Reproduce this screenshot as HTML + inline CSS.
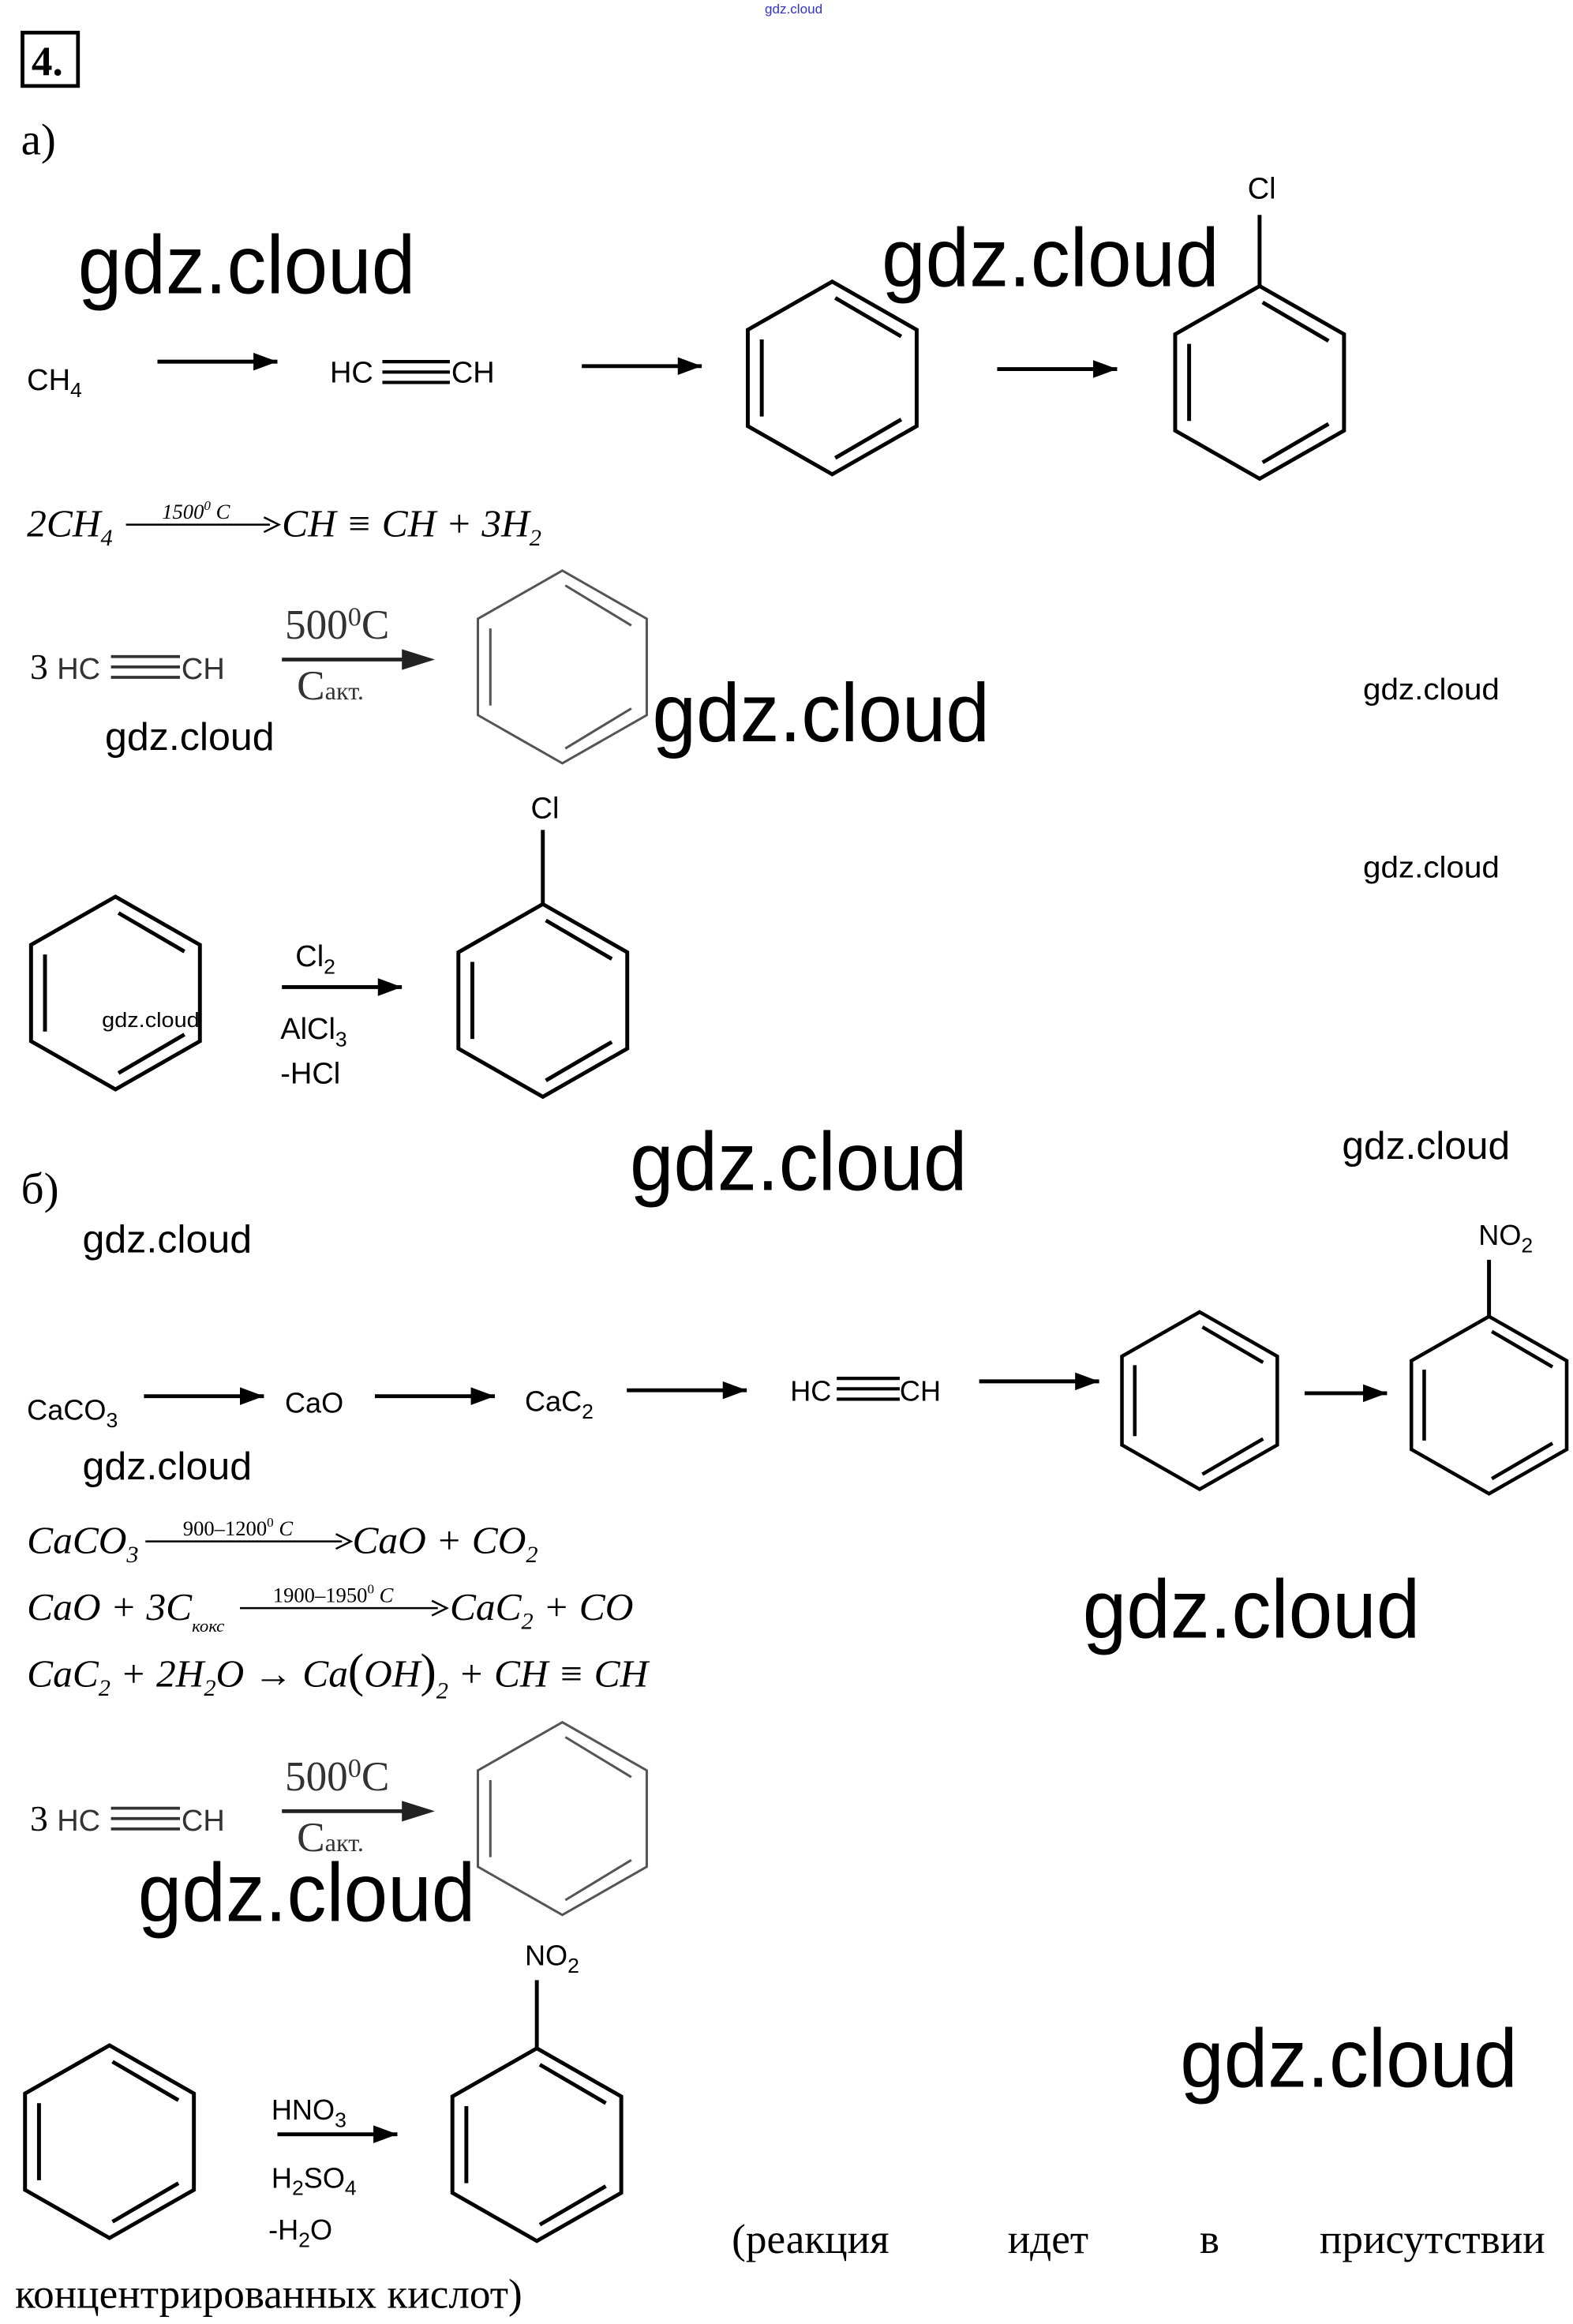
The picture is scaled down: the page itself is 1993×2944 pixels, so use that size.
<!DOCTYPE html>
<html><head><meta charset="utf-8"><style>
html,body{margin:0;padding:0;background:#fff}
svg{display:block}
.a{font-family:"Liberation Sans",sans-serif;fill:#000}
.s{font-family:"Liberation Serif",serif;fill:#000}
.i{font-family:"Liberation Serif",serif;font-style:italic;fill:#000}
.w{font-family:"Liberation Sans",sans-serif;fill:#000}
</style></head><body>
<svg width="1993" height="2944" viewBox="0 0 1049 1568" preserveAspectRatio="none" xmlns="http://www.w3.org/2000/svg">
<defs>
<g id="hx" fill="none" stroke="#000" stroke-width="2.6">
<polygon points="0,-65 56.3,-32.5 56.3,32.5 0,65 -56.3,32.5 -56.3,-32.5"/>
<line x1="-47" y1="-26" x2="-47" y2="26"/>
<line x1="2" y1="-54" x2="46" y2="-28"/>
<line x1="46" y1="28" x2="2" y2="54"/>
</g>
<g id="hxg" fill="none" stroke="#555" stroke-width="1.6">
<polygon points="0,-65 56.3,-32.5 56.3,32.5 0,65 -56.3,32.5 -56.3,-32.5"/>
<line x1="-48" y1="-26" x2="-48" y2="26"/>
<line x1="2" y1="-55" x2="46" y2="-28"/>
<line x1="46" y1="28" x2="2" y2="55"/>
</g>
<g id="ar"><line x1="0" y1="0" x2="-80" y2="0" stroke="#000" stroke-width="2.6"/><polygon points="0,0 -16,-6 -16,6" fill="#000"/></g>
</defs>
<text x="510" y="9" class="a" font-size="9" style="fill:#33c">gdz.cloud</text>
<rect x="15" y="22" width="37" height="36" fill="none" stroke="#000" stroke-width="2.5"/>
<text x="21" y="51" class="s" font-size="28" font-weight="bold">4.</text>
<text x="14" y="104" class="s" font-size="30">а)</text>

<text x="52" y="198" class="w" font-size="56" textLength="225" lengthAdjust="spacingAndGlyphs">gdz.cloud</text>
<text x="588" y="193" class="w" font-size="56" textLength="225" lengthAdjust="spacingAndGlyphs">gdz.cloud</text>

<text x="18" y="263" class="a" font-size="20">CH<tspan font-size="14" dy="5">4</tspan></text>
<use href="#ar" x="185" y="244"/>
<text x="220" y="258" class="a" font-size="20">HC</text>
<g stroke="#000" stroke-width="2.2"><line x1="255" y1="244" x2="300" y2="244"/><line x1="255" y1="251" x2="300" y2="251"/><line x1="255" y1="258" x2="300" y2="258"/></g>
<text x="301" y="258" class="a" font-size="20">CH</text>
<use href="#ar" x="468" y="247"/>
<use href="#hx" x="555" y="255"/>
<use href="#ar" x="745" y="249"/>
<use href="#hx" transform="translate(840,258)"/>
<line x1="840" y1="193" x2="840" y2="145" stroke="#000" stroke-width="2.6"/>
<text x="832" y="134" class="a" font-size="20">Cl</text>

<text x="18" y="362" class="i" font-size="26">2CH<tspan font-size="16" dy="6">4</tspan></text>
<line x1="84" y1="354" x2="180" y2="354" stroke="#000" stroke-width="1.3"/><path d="M176,349 L186,354 L176,359" fill="none" stroke="#000" stroke-width="1.3"/>
<text x="108" y="350" class="i" font-size="14">1500<tspan font-size="9" dy="-6">0</tspan><tspan dy="6"> C</tspan></text>
<text x="188" y="362" class="i" font-size="26">CH ≡ CH + 3H<tspan font-size="16" dy="6">2</tspan></text>

<g id="r3">
<text x="20" y="458" class="s" font-size="24" fill="#333">3</text>
<text x="38" y="458" class="a" font-size="20" style="fill:#333">HC</text>
<g stroke="#333" stroke-width="2"><line x1="74" y1="443" x2="120" y2="443"/><line x1="74" y1="450" x2="120" y2="450"/><line x1="74" y1="457" x2="120" y2="457"/></g>
<text x="121" y="458" class="a" font-size="20" style="fill:#333">CH</text>
<text x="190" y="431" class="s" font-size="28" style="fill:#333">500<tspan font-size="18" dy="-9">0</tspan><tspan dy="9">C</tspan></text>
<line x1="188" y1="445" x2="272" y2="445" stroke="#222" stroke-width="2.5"/><polygon points="290,445 268,438 268,452" fill="#222"/>
<text x="198" y="472" class="s" font-size="28" style="fill:#333">C<tspan font-size="17">акт.</tspan></text>
<use href="#hxg" x="375" y="450"/>
</g>
<text x="70" y="506" class="w" font-size="26" textLength="113" lengthAdjust="spacingAndGlyphs">gdz.cloud</text>
<text x="435" y="500" class="w" font-size="56" textLength="225" lengthAdjust="spacingAndGlyphs">gdz.cloud</text>
<text x="909" y="472" class="w" font-size="20" textLength="91" lengthAdjust="spacingAndGlyphs">gdz.cloud</text>
<text x="909" y="592" class="w" font-size="20" textLength="91" lengthAdjust="spacingAndGlyphs">gdz.cloud</text>

<use href="#hx" x="77" y="670"/>
<text x="68" y="693" class="w" font-size="14" textLength="65" lengthAdjust="spacingAndGlyphs">gdz.cloud</text>
<text x="197" y="652" class="a" font-size="20">Cl<tspan font-size="14" dy="5">2</tspan></text>
<use href="#ar" x="268" y="666"/>
<text x="187" y="701" class="a" font-size="20">AlCl<tspan font-size="14" dy="5">3</tspan></text>
<text x="187" y="731" class="a" font-size="20">-HCl</text>
<use href="#hx" x="362" y="675"/>
<line x1="362" y1="610" x2="362" y2="560" stroke="#000" stroke-width="2.6"/>
<text x="354" y="552" class="a" font-size="20">Cl</text>

<text x="14" y="812" class="s" font-size="30">б)</text>
<text x="420" y="803" class="w" font-size="56" textLength="225" lengthAdjust="spacingAndGlyphs">gdz.cloud</text>
<text x="895" y="782" class="w" font-size="26" textLength="112" lengthAdjust="spacingAndGlyphs">gdz.cloud</text>
<text x="55" y="845" class="w" font-size="26" textLength="113" lengthAdjust="spacingAndGlyphs">gdz.cloud</text>

<text x="18" y="958" class="a" font-size="19">CaCO<tspan font-size="14" dy="5">3</tspan></text>
<use href="#ar" x="176" y="942"/>
<text x="190" y="953" class="a" font-size="19">CaO</text>
<use href="#ar" x="330" y="942"/>
<text x="350" y="952" class="a" font-size="19">CaC<tspan font-size="14" dy="5">2</tspan></text>
<use href="#ar" x="498" y="938"/>
<text x="527" y="945" class="a" font-size="19">HC</text>
<g stroke="#000" stroke-width="2.2"><line x1="558" y1="930" x2="600" y2="930"/><line x1="558" y1="937" x2="600" y2="937"/><line x1="558" y1="944" x2="600" y2="944"/></g>
<text x="600" y="945" class="a" font-size="19">CH</text>
<use href="#ar" x="733" y="932"/>
<use href="#hx" transform="translate(800,945) scale(0.92)"/>
<g transform="translate(925,940)"><line x1="0" y1="0" x2="-55" y2="0" stroke="#000" stroke-width="2.6"/><polygon points="0,0 -16,-6 -16,6" fill="#000"/></g>
<use href="#hx" transform="translate(993,948) scale(0.92)"/>
<line x1="993" y1="888" x2="993" y2="850" stroke="#000" stroke-width="2.6"/>
<text x="986" y="840" class="a" font-size="19">NO<tspan font-size="14" dy="5">2</tspan></text>
<text x="55" y="998" class="w" font-size="26" textLength="113" lengthAdjust="spacingAndGlyphs">gdz.cloud</text>

<text x="18" y="1048" class="i" font-size="26">CaCO<tspan font-size="16" dy="6">3</tspan></text>
<line x1="97" y1="1040" x2="228" y2="1040" stroke="#000" stroke-width="1.3"/><path d="M224,1035 L234,1040 L224,1045" fill="none" stroke="#000" stroke-width="1.3"/>
<text x="122" y="1036" class="s" font-size="14">900–1200<tspan font-size="9" dy="-6">0</tspan><tspan dy="6" font-style="italic"> C</tspan></text>
<text x="235" y="1048" class="i" font-size="26">CaO + CO<tspan font-size="16" dy="6">2</tspan></text>

<text x="18" y="1093" class="i" font-size="26">CaO + 3C<tspan font-size="12" dy="8">кокс</tspan></text>
<line x1="160" y1="1085" x2="292" y2="1085" stroke="#000" stroke-width="1.3"/><path d="M288,1080 L298,1085 L288,1090" fill="none" stroke="#000" stroke-width="1.3"/>
<text x="182" y="1081" class="s" font-size="14">1900–1950<tspan font-size="9" dy="-6">0</tspan><tspan dy="6" font-style="italic"> C</tspan></text>
<text x="300" y="1093" class="i" font-size="26">CaC<tspan font-size="16" dy="6">2</tspan><tspan dy="-6"> + CO</tspan></text>

<text x="18" y="1138" class="i" font-size="26">CaC<tspan font-size="16" dy="6">2</tspan><tspan dy="-6"> + 2H</tspan><tspan font-size="16" dy="6">2</tspan><tspan dy="-6">O → Ca</tspan><tspan font-size="32" font-style="normal">(</tspan><tspan>OH</tspan><tspan font-size="32" font-style="normal">)</tspan><tspan font-size="16" dy="8">2</tspan><tspan dy="-8"> + CH ≡ CH</tspan></text>
<text x="722" y="1105" class="w" font-size="56" textLength="225" lengthAdjust="spacingAndGlyphs">gdz.cloud</text>

<use href="#r3" y="777"/>
<text x="92" y="1296" class="w" font-size="56" textLength="225" lengthAdjust="spacingAndGlyphs">gdz.cloud</text>

<use href="#hx" x="73" y="1445"/>
<text x="181" y="1430" class="a" font-size="19">HNO<tspan font-size="14" dy="5">3</tspan></text>
<use href="#ar" x="265" y="1440"/>
<text x="181" y="1476" class="a" font-size="19">H<tspan font-size="14" dy="5">2</tspan><tspan dy="-5">SO</tspan><tspan font-size="14" dy="5">4</tspan></text>
<text x="179" y="1511" class="a" font-size="19">-H<tspan font-size="14" dy="5">2</tspan><tspan dy="-5">O</tspan></text>
<use href="#hx" x="358" y="1447"/>
<line x1="358" y1="1382" x2="358" y2="1336" stroke="#000" stroke-width="2.6"/>
<text x="350" y="1326" class="a" font-size="19">NO<tspan font-size="14" dy="5">2</tspan></text>
<text x="787" y="1408" class="w" font-size="56" textLength="225" lengthAdjust="spacingAndGlyphs">gdz.cloud</text>

<text x="488" y="1520" class="s" font-size="28">(реакция</text>
<text x="672" y="1520" class="s" font-size="28">идет</text>
<text x="800" y="1520" class="s" font-size="28">в</text>
<text x="880" y="1520" class="s" font-size="28">присутствии</text>
<text x="10" y="1557" class="s" font-size="28">концентрированных кислот)</text>
</svg>
</body></html>
